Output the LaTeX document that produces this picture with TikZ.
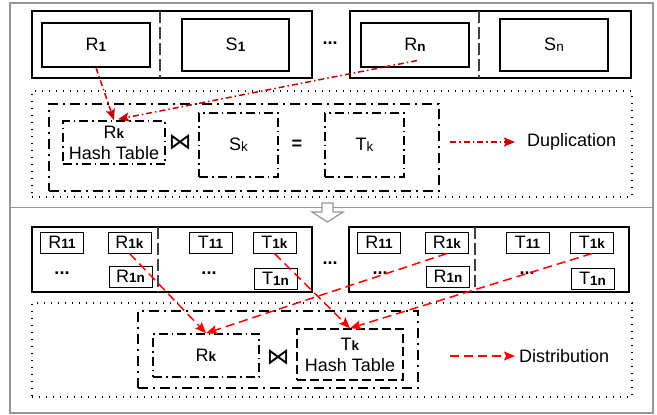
\documentclass[tikz,border=0pt]{standalone}
\usepackage{fontspec}
\setmainfont{Liberation Sans}
\newfontfamily\symfont{DejaVu Sans}
\usetikzlibrary{arrows.meta,calc}
% small index set next to a letter (bold or regular)
\newcommand{\subidx}[1]{\raisebox{-0.6pt}{\fontsize{13.5}{14}\selectfont\bfseries #1}}
\newcommand{\subidxn}[1]{\raisebox{-0.6pt}{\fontsize{13.5}{14}\selectfont #1}}
\definecolor{framegray}{RGB}{150,150,150}
\definecolor{dupred}{RGB}{200,0,0}
\definecolor{disred}{RGB}{255,0,0}
\tikzset{
  frame/.style={draw=framegray, line width=1.5pt},
  part/.style={draw, line width=1.6pt, rectangle, inner sep=0pt},
  cell/.style={draw, line width=1.2pt, rectangle, inner sep=0pt},
  minicell/.style={cell, line width=1pt, minimum width=43pt, minimum height=21pt},
  divider/.style={draw=black!75, line width=1.1pt, dash pattern=on 12pt off 4pt},
  dotbox/.style={draw, line width=1.3pt, dash pattern=on 1.3pt off 5.7pt, rectangle, inner sep=0pt},
  groupbox/.style={draw, line width=2pt, dash pattern=on 10pt off 5pt on 2pt off 5pt, rectangle, inner sep=0pt},
  tablebox/.style={draw, line width=1.6pt, dash pattern=on 9pt off 4pt on 1.5pt off 4pt, rectangle, inner sep=0pt, align=center},
  hashbox/.style={draw, line width=1.6pt, dash pattern=on 9pt off 4pt, rectangle, inner sep=0pt, align=center},
  duparrow/.style={draw=dupred, line width=1.5pt, dash pattern=on 6pt off 3pt on 1.5pt off 3pt,
    -{Stealth[length=11pt,width=9pt,inset=2pt]}},
  disarrow/.style={draw=disred, line width=1.5pt, dash pattern=on 9pt off 5pt,
    -{Stealth[length=11pt,width=9pt,inset=2pt]}},
  ell/.style={anchor=base, font=\fontsize{18}{20}\selectfont\bfseries},
  joinsym/.style={font=\fontsize{23}{24}\selectfont\symfont},
}
\begin{document}
\begin{tikzpicture}[x=1pt, y=-1pt,
  every node/.style={font=\fontsize{18}{21}\selectfont, inner sep=0pt}]
\useasboundingbox (0,0) rectangle (657,415);

% ---------- outer frames ----------
\draw[frame] (10,3) rectangle (653,207.5);
\draw[frame] (10,207.5) rectangle (653,413);

% ---------- top section: partitions ----------
\node[part, minimum width=280pt, minimum height=67pt] (p1) at (172,44.5) {};
\node[part, minimum width=281pt, minimum height=67pt] (pn) at (490.5,44.5) {};
\draw[divider] (160,11) -- (160,78);
\draw[divider] (479,11) -- (479,78);
\node[cell, minimum width=108pt, minimum height=44pt] (r1) at (96,45) {R\subidx{1}};
\node[cell, minimum width=107pt, minimum height=52pt] (s1) at (235.5,45) {S\subidx{1}};
\node[cell, minimum width=108pt, minimum height=44pt] (rn) at (415,45) {R\subidx{n}};
\node[cell, minimum width=108pt, minimum height=52pt] (sn) at (554,45) {S\subidxn{n}};
\node[ell] (dotsA) at (330,45) {...};

% ---------- top section: local join ----------
\node[dotbox, minimum width=600pt, minimum height=106pt] (dupbox) at (332,144) {};
\node[groupbox, minimum width=390pt, minimum height=87pt] (grp1) at (244,147.5) {};
\node[tablebox, minimum width=102pt, minimum height=43pt] (rk) at (114,142.5)
  {R\subidx{k}\\Hash Table};
\node[joinsym] (join1) at (180,142) {⋈};
\node[tablebox, minimum width=79pt, minimum height=64pt] (sk) at (238.5,145) {S\subidxn{k}};
\node[font=\fontsize{18}{20}\selectfont\bfseries] (eq) at (297,145) {=};
\node[tablebox, minimum width=79pt, minimum height=64pt] (tk) at (364.5,145) {T\subidxn{k}};

% legend: duplication
\coordinate (dupstart) at (450,142);
\node[anchor=west] (duptext) at (527,142) {Duplication};
\draw[duparrow] (dupstart) -- ([xshift=-12pt]duptext.west);

% duplication arrows
\draw[duparrow] (r1.south) -- (rk.north);
\draw[duparrow] ($(rn.south)+(2,-7)$) -- ($(rk.north)+(4,-1)$);

% ---------- step arrow between sections ----------
\draw[draw=framegray, fill=white, line width=1.2pt]
  (322,203) -- (333,203) -- (333,212) -- (343,212) -- (327.5,222)
  -- (312,212) -- (322,212) -- cycle;

% ---------- bottom section: partitions ----------
\node[part, minimum width=280pt, minimum height=65pt] (q1) at (172,259.5) {};
\node[part, minimum width=280pt, minimum height=65pt] (qn) at (489,259.5) {};
\draw[divider] (158,227) -- (158,292);
\draw[divider] (475,227) -- (475,292);

\node[minicell] (r11a) at (62,242.5) {R\subidx{11}};
\node[minicell] (r1ka) at (129.5,242.5) {R\subidx{1k}};
\node[minicell] (r1na) at (130.5,276.5) {R\subidx{1n}};
\node[minicell] (t11a) at (210.5,242.5) {T\subidx{11}};
\node[minicell] (t1ka) at (274.5,242.5) {T\subidx{1k}};
\node[minicell] (t1na) at (275.5,279) {T\subidx{1n}};
\node[ell] (dotsB) at (62,274) {...};
\node[ell] (dotsC) at (209,274) {...};

\node[minicell] (r11b) at (379,242.5) {R\subidx{11}};
\node[minicell] (r1kb) at (447,242.5) {R\subidx{1k}};
\node[minicell] (r1nb) at (448,276.5) {R\subidx{1n}};
\node[minicell] (t11b) at (527.5,242.5) {T\subidx{11}};
\node[minicell] (t1kb) at (592,242.5) {T\subidx{1k}};
\node[minicell] (t1nb) at (592.5,279) {T\subidx{1n}};
\node[ell] (dotsD) at (380,274) {...};
\node[ell] (dotsE) at (527,274) {...};
\node[ell] (dotsF) at (330,264) {...};

% ---------- bottom section: local join ----------
\node[dotbox, minimum width=600pt, minimum height=94pt] (disbox) at (332,350) {};
\node[groupbox, minimum width=280pt, minimum height=77pt] (grp2) at (278,349.5) {};
\node[tablebox, minimum width=106pt, minimum height=43pt] (rk2) at (206,355.5) {R\subidx{k}};
\node[joinsym] (join2) at (278,357) {⋈};
\node[hashbox, minimum width=106pt, minimum height=51pt] (tk2) at (350,354.5)
  {T\subidx{k}\\Hash Table};

% legend: distribution
\coordinate (disstart) at (450,356);
\node[anchor=west] (distext) at (519,356) {Distribution};
\draw[disarrow] (disstart) -- ([xshift=-4pt]distext.west);

% distribution arrows
\draw[disarrow] (r1ka.south) -- (rk2.north);
\draw[disarrow] (r1kb.south) -- (rk2.north);
\draw[disarrow] (t1ka.south) -- (tk2.north);
\draw[disarrow] (t1kb.south) -- (tk2.north);
\end{tikzpicture}
\end{document}
